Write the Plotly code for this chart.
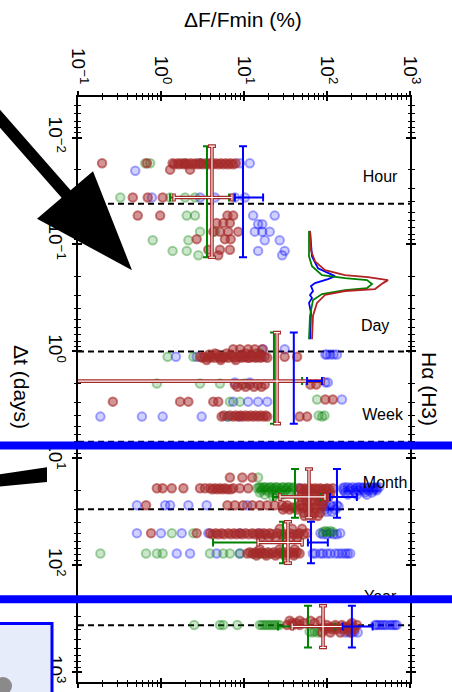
import plotly.graph_objects as go

# ---------------- DATA (log10 values) ----------------
# Each colour: rows of log10(Δt / days) and, per row, log10(ΔF/Fmin %) values
red_rows_logt = [-1.76, -1.75, -1.70, -1.44, -1.27, -1.20, -1.12, -1.05, -0.95, -0.90,
                 -0.02, 0.05, 0.06, 0.02, 0.03, 0.08, 0.31, 0.33, 0.47, 0.45, 0.61, 0.60,
                 1.18, 1.28, 1.29, 1.33, 1.36, 1.40, 1.44, 1.46, 1.48, 1.51, 1.54,
                 1.70, 1.71, 1.66, 1.74, 1.89, 1.88, 1.91, 1.85,
                 2.56, 2.58, 2.60, 2.52, 2.54, 2.63]
red_rows_logF = [
    [-0.71, -0.17, 0.14, 0.20, 0.25, 0.30, 0.36, 0.42, 0.48, 0.54, 0.60, 0.66, 0.72, 0.78, 0.84, 0.90],
    [0.16, 0.22, 0.28, 0.33, 0.39, 0.45, 0.51, 0.57, 0.63, 0.69, 0.75, 0.81, 0.87],
    [0.11, 0.35],
    [-0.34, -0.16, 0.02],
    [-0.28, -0.01, 0.80, 0.87],
    [0.67, 0.75, 0.83],
    [0.63, 0.71, 0.81, 0.93],
    [0.43, 0.77, 0.84],
    [0.57, 0.71, 0.83],
    [0.69],
    [0.87, 0.95, 1.05, 1.13, 1.22],
    [0.47, 0.53, 0.61, 0.69, 0.77, 0.86, 0.93, 1.01, 1.10, 1.17, 1.25, 1.49, 1.64],
    [0.50, 0.57, 0.64, 0.71, 0.74, 0.81, 0.89, 0.97, 1.04, 1.07, 1.14, 1.20, 1.28],
    [0.65, 0.79, 1.02, 1.15],
    [0.58, 0.68, 0.84, 0.98, 1.08, 1.20],
    [0.55, 0.72, 0.90],
    [0.89, 0.98, 1.07, 1.17, 1.25, 1.80, 1.87],
    [0.92, 1.02, 1.12, 1.21],
    [-0.58, 0.23, 0.33, 0.63, 0.69],
    [1.98, 2.07],
    [0.73, 0.87, 0.93, 0.99, 1.05, 1.11, 1.17, 1.23, 1.28, 1.67, 1.76],
    [0.76, 0.83, 0.90, 0.96, 1.02, 1.08, 1.14, 1.20, 1.26],
    [0.83, 0.98, 1.10],
    [-0.05, 0.02, 0.13, 0.27, 0.47, 0.53, 0.59, 0.65, 0.71, 0.77, 0.87, 0.95, 1.05,
     1.67, 1.73, 1.80, 1.86, 1.92, 2.00, 2.07],
    [0.62, 0.68, 0.74, 0.80, 0.84, 1.69, 1.75, 1.78, 1.83, 1.89, 1.95, 1.98, 2.03],
    [1.70, 1.82, 1.94, 2.04],
    [1.68, 1.74, 1.79, 1.86, 1.91, 1.97, 2.02],
    [1.70, 1.76, 1.84, 1.90, 1.96],
    [-0.18, 0.80, 0.89, 0.99, 1.10, 1.19, 1.28, 1.37, 1.46, 1.52, 1.67, 1.77, 1.87, 1.95],
    [1.50, 1.58, 1.62, 1.70, 1.75, 1.80, 1.85, 1.92],
    [1.47, 1.55, 1.64],
    [1.72, 1.78, 1.85, 1.92],
    [1.73, 1.82, 1.89],
    [-0.12, 0.43, 0.59, 0.66, 0.73, 0.81, 0.88, 0.95, 1.02, 1.10, 1.17, 1.24, 1.31, 1.40, 1.55, 1.67, 1.76],
    [0.62, 0.69, 0.76, 0.84, 0.91, 0.98, 1.06, 1.13, 1.20, 1.27, 1.34, 1.45, 1.50, 1.60, 1.65, 1.72],
    [1.43, 1.58, 1.70],
    [1.20, 1.30, 1.38, 1.48, 1.56, 1.64],
    [1.04, 1.11, 1.18, 1.25, 1.33, 1.40, 1.47, 1.54, 1.61, 1.67],
    [1.07, 1.14, 1.21, 1.29, 1.36, 1.44, 1.50, 1.58, 1.64],
    [1.15, 1.27, 1.38, 1.49, 1.60],
    [1.19, 1.43, 1.61],
    [1.52, 1.59, 1.67, 2.00, 2.10, 2.18, 2.28, 2.36],
    [1.96, 2.03, 2.07, 2.13, 2.22, 2.25, 2.32],
    [1.98, 2.06, 2.12, 2.20, 2.26, 2.33],
    [1.55, 1.67, 1.80, 1.92],
    [1.58, 1.63, 1.72, 1.85, 2.30],
    [1.94, 2.04, 2.16, 2.28],
]

green_rows_logt = [-1.76, -1.44, -1.27, -1.12, -1.04, -0.94, -0.90,
                   0.05, 0.30, 0.47, 0.45, 0.61, 0.60, 0.02,
                   1.18, 1.27, 1.28, 1.30, 1.32, 1.34, 1.36,
                   1.70, 1.68, 1.69, 1.89,
                   2.56, 2.62, 2.63]
green_rows_logF = [
    [-0.19, -0.13, 0.29, 0.47],
    [-0.49, 0.11, 0.29, 0.41],
    [0.31, 0.41],
    [0.47, 0.65],
    [-0.10, 0.33],
    [0.14, 0.31],
    [0.45],
    [0.08, 0.39, 0.59, 0.77, 0.95, 1.13],
    [-0.05, 0.47, 0.71, 1.01],
    [0.83, 0.95],
    [1.88],
    [0.81, 1.94],
    [1.90, 1.97],
    [1.19],
    [1.17],
    [1.18, 1.20, 1.24, 1.26, 1.31, 1.33, 1.38, 1.40, 1.46, 1.48, 1.53, 1.55, 1.60],
    [1.16, 1.22, 1.29, 1.36, 1.43, 1.51, 1.58],
    [1.21, 1.27, 1.34, 1.39, 1.45, 1.50, 1.57],
    [1.19, 1.31, 1.43, 1.55],
    [1.25, 1.38, 1.47],
    [1.35],
    [0.13, 0.39],
    [1.98, 2.04],
    [1.95, 2.00, 2.07],
    [-0.73, -0.18, -0.05, 0.02, 0.59, 0.75, 0.83, 0.95, 1.10, 1.15, 1.20, 1.25, 1.30],
    [0.40, 0.71, 0.75, 0.92, 1.19, 1.22, 1.25, 1.28, 1.31, 1.34, 1.37, 1.40, 1.43],
    [1.79, 1.85, 1.92],
    [1.82, 1.89],
]

blue_rows_logt = [-1.76, -1.69, -1.44, -1.27, -1.19, -1.12, -1.04, -0.94, -0.90,
                  0.05, -0.02, 0.03, 0.29, 0.47, 0.45, 0.61,
                  1.27, 1.28, 1.30, 1.32, 1.34, 1.44, 1.45, 1.48, 1.50,
                  1.70, 1.71, 1.89,
                  2.56, 2.62, 2.63]
blue_rows_logF = [
    [0.47, 0.59, 0.95, 1.07],
    [-0.31],
    [-0.11, 0.47, 0.65, 0.89, 1.01],
    [1.11, 1.37],
    [1.17, 1.22],
    [1.13, 1.22, 1.31],
    [1.25, 1.43],
    [1.17, 1.49],
    [1.46],
    [0.18, 0.43, 1.01, 1.22],
    [1.23, 1.49],
    [1.98, 2.00, 2.04, 2.08, 2.12],
    [0.89, 1.07, 1.98, 2.01],
    [0.87, 1.05, 1.17, 1.28],
    [2.18],
    [-0.73, -0.23, 0.02, 0.49, 0.80, 0.95],
    [2.21, 2.25, 2.31, 2.37, 2.40, 2.45, 2.51, 2.55, 2.59, 2.63],
    [1.67, 2.19, 2.28, 2.35, 2.42, 2.49, 2.57, 2.60],
    [2.20, 2.26, 2.32, 2.38, 2.44, 2.50, 2.56, 2.60],
    [2.22, 2.34, 2.46, 2.54],
    [2.25, 2.36, 2.48],
    [-0.29, 0.05, 0.11, 0.33, 0.55, 1.04, 1.95, 2.04, 2.12],
    [1.97, 2.00, 2.07, 2.14],
    [1.98, 2.10],
    [2.00, 2.06],
    [-0.29, 0.00, 0.25, 0.57, 0.95, 1.19, 1.92, 2.04, 2.16],
    [1.95, 2.00, 2.08, 2.12],
    [0.19, 0.35, 0.67, 0.95, 1.83, 1.86, 1.92, 1.95, 2.00, 2.04, 2.10, 2.14, 2.18, 2.22, 2.25, 2.28],
    [2.58, 2.60, 2.63, 2.66, 2.69, 2.72, 2.76, 2.79, 2.82, 2.84],
    [2.25, 2.33],
    [2.22, 2.30, 2.37],
]

# Binned statistics (crosses): log10 values
bin_logt_c = [-1.44, 0.278, 1.361, 1.787, 2.574]
bin_logt_lo = [-1.92, -0.176, 1.10, 1.593, 2.38]
bin_logt_hi = [-0.88, 0.676, 1.556, 1.981, 2.77]
green_c = [0.554, 1.361, 1.614, 1.47, 1.771]
green_lo = [0.11, -1.5, 1.35, 0.627, 1.41]
green_hi = [0.82, 1.70, 1.92, 1.70, 2.10]
red_c = [0.614, 1.398, 1.783, 1.53, 1.952]
red_lo = [0.157, -1.5, 1.434, 1.17, 1.58]
red_hi = [0.855, 1.95, 1.976, 1.70, 2.19]
blue_c = [0.988, 1.60, 2.12, 1.807, 2.30]
blue_lo = [0.89, 1.76, 2.036, 1.77, 2.19]
blue_hi = [1.23, 1.94, 2.36, 2.01, 2.55]

# Time-scale markers
scale_names = ["Hour", "Day", "Week", "Month", "Year"]
scale_days = [1 / 24, 1, 7, 30, 365]
label_logF = [2.64, 2.58, 2.67, 2.70, 2.64]
label_logt = [-1.62, -0.23, 0.60, 1.24, 2.31]

# Inset H-alpha line profiles (velocity km/s, normalised flux)
spec_red_v = [-1000, -636, -436, -273, -182, -145, -91, -36, 73, 109, 182, 327, 564, 1000]
spec_red_f = [1.0, 1.05, 1.25, 1.75, 2.75, 3.9, 4.9, 4.65, 4.25, 2.75, 1.75, 1.35, 1.15, 1.1]
spec_green_v = [-1000, -527, -345, -182, -127, -91, -18, 55, 91, 164, 273, 564, 1000]
spec_green_f = [0.95, 0.95, 1.1, 1.6, 2.75, 3.85, 4.1, 3.85, 2.75, 1.6, 1.15, 1.0, 0.95]
spec_blue_v = [-1000, -527, -309, -218, -164, -109, -36, 18, 109, 182, 236, 327, 509, 1000]
spec_blue_f = [1.0, 1.1, 1.4, 1.9, 2.25, 1.9, 1.25, 1.05, 1.15, 1.0, 1.1, 0.95, 1.05, 1.0]

# ---------------- STYLE ----------------
RED = "#a52a2a"
GREEN = "#008000"
BLUE = "#0000ff"
FONT = "Liberation Sans"

W, H = 452, 692
L, R, T, B = 78, 410, 97, 688  # plot frame in pixels


def P(px, py):
    return (px - L) / (R - L), (B - py) / (B - T)


def flatten(rows_t, rows_F):
    xs, ys = [], []
    for t, Fs in zip(rows_t, rows_F):
        for f in Fs:
            xs.append(10 ** f)
            ys.append(10 ** t)
    return xs, ys


fig = go.Figure()

# dashed time-scale lines
for d in scale_days:
    fig.add_trace(go.Scatter(x=[0.1, 1000], y=[d, d], mode="lines",
                             line=dict(color="black", width=2, dash="6px,4px"),
                             showlegend=False, hoverinfo="skip"))

# scatter clouds (fill and edge with separate transparency -> darker rings)
for rows_t, rows_F, fill, edge in [
        (blue_rows_logt, blue_rows_logF, "rgba(0,0,255,0.18)", "rgba(0,0,255,0.35)"),
        (green_rows_logt, green_rows_logF, "rgba(0,128,0,0.2)", "rgba(0,128,0,0.35)"),
        (red_rows_logt, red_rows_logF, "rgba(165,42,42,0.5)", "rgba(165,42,42,0.6)")]:
    xs, ys = flatten(rows_t, rows_F)
    fig.add_trace(go.Scatter(x=xs, y=ys, mode="markers",
                             marker=dict(size=8.5, color=fill,
                                         line=dict(color=edge, width=2)),
                             showlegend=False, hoverinfo="skip"))


def add_cross(c, lo, hi, col, width, cap):
    # vertical bars (Δt spread)
    fig.add_trace(go.Scatter(
        x=[10 ** v for v in c], y=[10 ** v for v in bin_logt_lo], mode="markers",
        marker=dict(size=1, color="rgba(0,0,0,0)"),
        error_y=dict(type="data", symmetric=False,
                     array=[10 ** h - 10 ** l for h, l in zip(bin_logt_hi, bin_logt_lo)],
                     arrayminus=[0] * len(c), color=col, thickness=width, width=cap),
        showlegend=False, hoverinfo="skip"))
    # horizontal bars (ΔF spread)
    fig.add_trace(go.Scatter(
        x=[10 ** v for v in lo], y=[10 ** v for v in bin_logt_c], mode="markers",
        marker=dict(size=1, color="rgba(0,0,0,0)"),
        error_x=dict(type="data", symmetric=False,
                     array=[10 ** h - 10 ** l for h, l in zip(hi, lo)],
                     arrayminus=[0] * len(c), color=col, thickness=width, width=cap),
        showlegend=False, hoverinfo="skip"))


add_cross(green_c, green_lo, green_hi, GREEN, 2, 4)
add_cross(red_c, red_lo, red_hi, RED, 3.6, 4)
add_cross(red_c, red_lo, red_hi, "white", 1.1, 3)
add_cross(blue_c, blue_lo, blue_hi, BLUE, 2, 4)

# time-scale labels
fig.add_trace(go.Scatter(x=[10 ** v for v in label_logF], y=[10 ** v for v in label_logt],
                         mode="text", text=scale_names,
                         textfont=dict(family=FONT, size=16, color="black"),
                         showlegend=False, hoverinfo="skip", cliponaxis=False))

# inset spectra
for v, f, col in [(spec_blue_v, spec_blue_f, BLUE), (spec_green_v, spec_green_f, GREEN),
                  (spec_red_v, spec_red_f, "#b22222")]:
    fig.add_trace(go.Scatter(x=f, y=v, mode="lines", line=dict(color=col, width=1.8),
                             xaxis="x2", yaxis="y2", showlegend=False, hoverinfo="skip"))

# dummy for inner-tick overlay axes
fig.add_trace(go.Scatter(x=[], y=[], xaxis="x3", yaxis="y3", showlegend=False))

# ---------------- AXES ----------------
xt_vals = [0.1, 1, 10, 100, 1000]
xt_text = ["10<sup>−1</sup>", "10<sup>0</sup>", "10<sup>1</sup>", "10<sup>2</sup>", "10<sup>3</sup>"]
yt_vals = [0.01, 0.1, 1, 10, 100, 1000]
yt_text = ["10<sup>−2</sup>", "10<sup>−1</sup>", "10<sup>0</sup>", "10<sup>1</sup>",
           "10<sup>2</sup>", "10<sup>3</sup>"]
minor_vals = [m * 10 ** e for e in range(-3, 4) for m in range(2, 10)]

common = dict(type="log", showgrid=False, zeroline=False, tickwidth=1.6, tickcolor="black")
xrange_ = [-1, 3]
yrange_ = [(B - 354) / 108, (T - 354) / 108]

fig.update_layout(
    xaxis=dict(**common, range=xrange_, side="top", showline=True, linewidth=2, linecolor="black",
               mirror="allticks", ticks="outside", ticklen=4, tickmode="array",
               tickvals=xt_vals, ticktext=xt_text, tickangle=90,
               tickfont=dict(family=FONT, size=19, color="black"),
               minor=dict(tickmode="array", tickvals=minor_vals, ticks="outside", ticklen=2.5,
                          tickwidth=1.2, tickcolor="black", showgrid=False)),
    yaxis=dict(**common, range=yrange_, showline=True, linewidth=2, linecolor="black",
               mirror="allticks", ticks="outside", ticklen=4, tickmode="array",
               tickvals=yt_vals, ticktext=yt_text, tickangle=90,
               tickfont=dict(family=FONT, size=19, color="black"),
               minor=dict(tickmode="array", tickvals=minor_vals, ticks="outside", ticklen=2.5,
                          tickwidth=1.2, tickcolor="black", showgrid=False)),
    xaxis3=dict(**common, range=xrange_, overlaying="x", anchor="y", side="top",
                mirror="allticks", ticks="inside", ticklen=4, tickmode="array",
                tickvals=xt_vals, showticklabels=False, showline=False,
                minor=dict(tickmode="array", tickvals=minor_vals, ticks="inside", ticklen=2.5,
                           tickwidth=1.2, tickcolor="black", showgrid=False)),
    yaxis3=dict(**common, range=yrange_, overlaying="y", anchor="x", side="left",
                mirror="allticks", ticks="inside", ticklen=4, tickmode="array",
                tickvals=yt_vals, showticklabels=False, showline=False,
                minor=dict(tickmode="array", tickvals=minor_vals, ticks="inside", ticklen=2.5,
                           tickwidth=1.2, tickcolor="black", showgrid=False)),
    xaxis2=dict(domain=[P(300, 0)[0], P(400, 0)[0]], range=[0.5, 5.5], anchor="y2",
                visible=False, fixedrange=True),
    yaxis2=dict(domain=[P(0, 342)[1], P(0, 232)[1]], range=[1000, -1000], anchor="x2",
                visible=False, fixedrange=True),
    width=W, height=H,
    margin=dict(l=L, r=W - R, t=T, b=H - B, pad=0),
    plot_bgcolor="rgba(0,0,0,0)", paper_bgcolor="white",
    font=dict(family=FONT, color="black"),
    showlegend=False,
)

# axis titles (rotated like the original)
ann = [
    dict(text="ΔF/Fmin (%)", x=P(243, 0)[0], y=P(0, 19)[1], textangle=0, size=21),
    dict(text="Δt (days)", x=P(22, 0)[0], y=P(0, 390)[1], textangle=90, size=21),
    dict(text="Hα (H3)", x=P(430, 0)[0], y=P(0, 392)[1], textangle=90, size=21),
]
for a in ann:
    fig.add_annotation(text=a["text"], x=a["x"], y=a["y"], xref="paper", yref="paper",
                       showarrow=False, textangle=a["textangle"],
                       font=dict(family=FONT, size=a["size"], color="black"),
                       xanchor="center", yanchor="middle")

# ---------------- OVERLAY DECORATIONS ----------------
def path(pts):
    s = ""
    for i, (px, py) in enumerate(pts):
        x, y = P(px, py)
        s += ("M" if i == 0 else "L") + f"{x:.4f},{y:.4f} "
    return s + "Z"


arrow = [(-10, 98.5), (70.6, 191.2), (93, 172), (132, 272), (37, 220), (61.6, 198.9), (-10, 116.5)]
fig.add_shape(type="path", path=path(arrow), xref="paper", yref="paper",
              fillcolor="black", line=dict(width=0), layer="above")
bar = [(-10, 479.5), (47, 471), (47, 486), (-10, 491.5)]
fig.add_shape(type="path", path=path(bar), xref="paper", yref="paper",
              fillcolor="black", line=dict(width=0), layer="above")

for py in [449, 604.5]:
    x0, y0 = P(-20, py)
    x1, _ = P(470, py)
    fig.add_shape(type="line", x0=x0, x1=x1, y0=y0, y1=y0, xref="paper", yref="paper",
                  line=dict(color=BLUE, width=8), layer="above")

bx0, by0 = P(-10, 720)
bx1, by1 = P(52, 629)
fig.add_shape(type="rect", x0=bx0, x1=bx1, y0=by0, y1=by1, xref="paper", yref="paper",
              fillcolor="#e6ecfa", line=dict(color=BLUE, width=3), layer="above")
cx0, cy0 = P(-6, 701)
cx1, cy1 = P(12, 683)
fig.add_shape(type="circle", x0=cx0, x1=cx1, y0=cy0, y1=cy1, xref="paper", yref="paper",
              fillcolor="#8a8a8a", line=dict(width=0), layer="above")

fig.write_html("out.html", config={"displayModeBar": False},
               post_script="document.body.style.margin='0';")
